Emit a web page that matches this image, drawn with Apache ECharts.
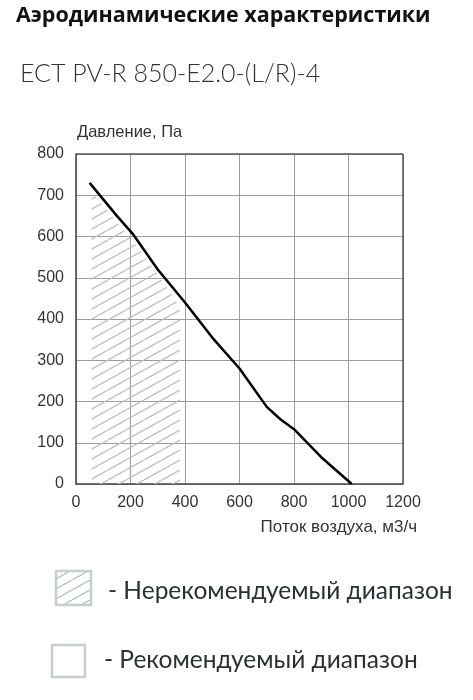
<!DOCTYPE html>
<html><head><meta charset="utf-8">
<script src="https://cdn.jsdelivr.net/npm/echarts@6/dist/echarts.min.js"></script>
<style>html,body{margin:0;padding:0;background:#fff}#c{width:473px;height:700px}</style>
</head><body><div id="c"></div>
<script>
// Data
const curveFlow = [50, 100, 150, 210, 300, 400, 500, 600, 700, 750, 800, 900, 1012];
const curvePressure = [730, 690, 650, 605, 520, 440, 355, 280, 187, 157, 133, 65, 0];
const hatchFlow = [57, 100, 150, 210, 300, 382];
const hatchPressure = [712, 675, 635, 590, 508, 428];
const xTicks = [0, 200, 400, 600, 800, 1000, 1200];
const yTicks = [0, 100, 200, 300, 400, 500, 600, 700, 800];
const titleText = 'Аэродинамические характеристики';
const modelText = 'ЕСТ PV-R 850-E2.0-(L/R)-4';
const yName = 'Давление, Па';
const xName = 'Поток воздуха, м3/ч';
const legend1 = '- Нерекомендуемый диапазон';
const legend2 = '- Рекомендуемый диапазон';

function hatchCanvas() {
  const c = document.createElement('canvas');
  const W = 18, H = 10;
  c.width = W; c.height = H;
  const g = c.getContext('2d');
  g.strokeStyle = '#b4c3c3';
  g.lineWidth = 1.4;
  for (let k = -1; k <= 1; k++) {
    g.beginPath();
    g.moveTo(0 + k * W, H);
    g.lineTo(W + k * W, 0);
    g.stroke();
  }
  return c;
}
const pat = { image: hatchCanvas(), repeat: 'repeat' };

const chart = echarts.init(document.getElementById('c'), null, { renderer: 'canvas' });
const labelFont = 'Liberation Sans';
chart.setOption({
  animation: false,
  backgroundColor: '#fff',
  grid: { left: 76, top: 154, width: 327, height: 330, show: false },
  xAxis: {
    type: 'value', min: 0, max: 1200, interval: 200,
    axisLine: { show: true, onZero: false, lineStyle: { color: '#444', width: 1.5 } },
    axisTick: { show: false },
    splitLine: { show: true, lineStyle: { color: '#9c9c9c', width: 1 } },
    axisLabel: { color: '#333', fontSize: 16, fontFamily: labelFont, margin: 11,
      formatter: v => xTicks.includes(v) ? String(v) : '' }
  },
  yAxis: {
    type: 'value', min: 0, max: 800, interval: 100,
    axisLine: { show: true, onZero: false, lineStyle: { color: '#444', width: 1.5 } },
    axisTick: { show: false },
    splitLine: { show: true, lineStyle: { color: '#9c9c9c', width: 1 } },
    axisLabel: { color: '#333', fontSize: 16, fontFamily: labelFont, margin: 12,
      formatter: v => yTicks.includes(v) ? String(v) : '' }
  },
  series: [
    {
      type: 'line', data: hatchFlow.map((x, i) => [x, hatchPressure[i]]),
      symbol: 'none', lineStyle: { width: 0, opacity: 0 },
      areaStyle: { color: pat, opacity: 1, origin: 'start' }, z: 1, silent: true
    },
    {
      type: 'line', data: curveFlow.map((x, i) => [x, curvePressure[i]]),
      symbol: 'none', lineStyle: { color: '#000', width: 2.5 }, z: 5
    }
  ],
  graphic: [
    { type: 'line', shape: { x1: 76, y1: 154, x2: 403, y2: 154 }, style: { stroke: '#555', lineWidth: 1.5 }, z: 10 },
    { type: 'line', shape: { x1: 403, y1: 154, x2: 403, y2: 484 }, style: { stroke: '#555', lineWidth: 1.5 }, z: 10 },
    { type: 'text', left: 16, top: 5, style: { text: titleText, font: 'bold 21.5px "Open Sans"', fill: '#111' } },
    { type: 'text', left: 20, top: 61, style: { text: modelText, font: '300 25px Lato', fill: '#333' } },
    { type: 'text', left: 77, top: 124, style: { text: yName, font: '16.5px "Liberation Sans"', fill: '#333' } },
    { type: 'text', right: 56, top: 519, style: { text: xName, font: '17px "Liberation Sans"', fill: '#333' } },
    { type: 'rect', shape: { x: 56, y: 571, width: 35, height: 34 }, style: { fill: pat, stroke: '#c7cece', lineWidth: 2.5 } },
    { type: 'text', left: 108, top: 579, style: { text: legend1, font: '24.5px Lato', fill: '#2b3035' } },
    { type: 'rect', shape: { x: 52, y: 645, width: 33, height: 32 }, style: { fill: '#fff', stroke: '#c7cece', lineWidth: 2.5 } },
    { type: 'text', left: 104, top: 648, style: { text: legend2, font: '24.5px Lato', fill: '#2b3035' } }
  ]
});
</script>
</body></html>
